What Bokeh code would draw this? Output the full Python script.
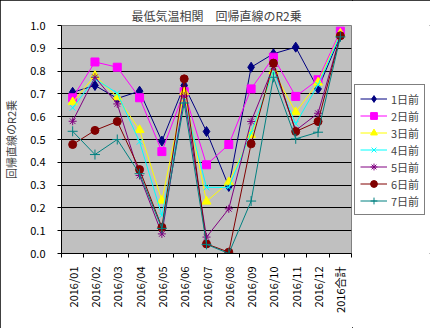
import math
from bokeh.plotting import figure
from bokeh.layouts import row
from bokeh.models import Range1d, FixedTicker, NumeralTickFormatter, Legend, LegendItem
from bokeh.embed import file_html
from bokeh.resources import INLINE

months = ["2016/01", "2016/02", "2016/03", "2016/04", "2016/05", "2016/06", "2016/07",
          "2016/08", "2016/09", "2016/10", "2016/11", "2016/12", "2016合計"]

names = ["1日前", "2日前", "3日前", "4日前", "5日前", "6日前", "7日前"]

d1 = [0.707, 0.737, 0.68, 0.712, 0.493, 0.737, 0.535, 0.294, 0.817, 0.876, 0.905, 0.722, 0.955]
d2 = [0.683, 0.840, 0.817, 0.683, 0.447, 0.710, 0.389, 0.478, 0.722, 0.861, 0.689, 0.762, 0.975]
d3 = [0.664, 0.780, 0.685, 0.542, 0.232, 0.708, 0.228, 0.313, 0.520, 0.800, 0.620, 0.750, 0.965]
d4 = [0.639, 0.766, 0.703, 0.490, 0.167, 0.670, 0.290, 0.290, 0.530, 0.800, 0.569, 0.740, 0.960]
d5 = [0.580, 0.773, 0.656, 0.342, 0.086, 0.690, 0.072, 0.196, 0.579, 0.820, 0.540, 0.615, 0.955]
d6 = [0.478, 0.540, 0.579, 0.368, 0.115, 0.766, 0.042, 0.006, 0.481, 0.835, 0.535, 0.579, 0.955]
d7 = [0.536, 0.434, 0.500, 0.350, 0.110, 0.660, 0.040, 0.000, 0.230, 0.773, 0.503, 0.532, 0.950]

y_ticks = [0.0, 0.1, 0.2, 0.3, 0.4, 0.5, 0.6, 0.7, 0.8, 0.9, 1.0]

series = [d1, d2, d3, d4, d5, d6, d7]
colors = ["#000080", "#FF00FF", "#FFFF00", "#00FFFF", "#800080", "#800000", "#008080"]
markers = ["diamond", "square", "triangle", "x", "asterisk", "circle", "cross"]
msizes = [10, 8, 9, 8, 8, 8, 10]

FONT = "Noto Sans CJK JP"

p = figure(width=352, height=328, output_backend="svg", toolbar_location=None,
           x_range=Range1d(0, len(months)), y_range=Range1d(0, 1.0),
           min_border_left=58, min_border_right=1, min_border_top=25, min_border_bottom=75)

p.background_fill_color = "#C0C0C0"
p.border_fill_color = "white"
p.outline_line_color = "#808080"

p.title.text = "最低気温相関　回帰直線のR2乗"
p.title.text_font = FONT
p.title.text_font_size = "12px"
p.title.text_font_style = "normal"
p.title.align = "left"
p.title.offset = 70
p.title.standoff = 4

xs = [i + 0.5 for i in range(len(months))]

# legend panel: separate figure (same top/bottom borders as the chart)
q = figure(width=78, height=328, output_backend="svg", toolbar_location=None,
           x_axis_type=None, y_axis_type=None,
           x_range=Range1d(-10, -9), y_range=Range1d(-10, -9),
           min_border_left=2, min_border_right=0, min_border_top=25, min_border_bottom=75)
q.outline_line_color = None
q.background_fill_color = "white"
q.border_fill_color = "white"
q.xgrid.visible = False
q.ygrid.visible = False

items = []
for name, data, col, mk, sz in zip(names, series, colors, markers, msizes):
    p.line(xs, data, line_color=col, line_width=1)
    p.scatter(xs, data, marker=mk, size=sz, line_color=col, fill_color=col, line_width=1)
    # same series in the legend panel (outside its visible range) to draw legend swatches
    ln = q.line(xs, data, line_color=col, line_width=1)
    sc = q.scatter(xs, data, marker=mk, size=sz, line_color=col, fill_color=col, line_width=1)
    items.append(LegendItem(label=name, renderers=[ln, sc]))

# x axis
p.xaxis.ticker = FixedTicker(ticks=xs, minor_ticks=list(range(len(months) + 1)))
p.xaxis.major_label_overrides = {x: m for x, m in zip(xs, months)}
p.xaxis.major_label_orientation = math.pi / 2
p.xaxis.major_tick_in = 0
p.xaxis.major_tick_out = 0
p.xaxis.minor_tick_in = 0
p.xaxis.minor_tick_out = 4
p.xaxis.major_label_standoff = 9
p.xaxis.major_label_text_font = FONT
p.xaxis.major_label_text_font_size = "11px"
p.xaxis.major_label_text_color = "black"
p.xaxis.axis_line_color = "black"
p.xaxis.minor_tick_line_color = "black"
p.xgrid.visible = False

# y axis
p.yaxis.ticker = FixedTicker(ticks=y_ticks, minor_ticks=[])
p.yaxis.formatter = NumeralTickFormatter(format="0.0")
p.yaxis.major_tick_in = 0
p.yaxis.major_tick_out = 4
p.yaxis.major_label_standoff = 12
p.yaxis.major_label_text_font = FONT
p.yaxis.major_label_text_font_size = "11px"
p.yaxis.major_label_text_color = "black"
p.yaxis.axis_line_color = "black"
p.yaxis.major_tick_line_color = "black"
p.yaxis.axis_label = "回帰直線のR2乗"
p.yaxis.axis_label_text_font = FONT
p.yaxis.axis_label_text_font_size = "11px"
p.yaxis.axis_label_text_font_style = "normal"
p.yaxis.axis_label_standoff = 8
p.ygrid.ticker = FixedTicker(ticks=y_ticks)
p.ygrid.grid_line_color = "black"
p.ygrid.grid_line_width = 1

legend = Legend(items=items, location=(0, 38))
legend.background_fill_color = "white"
legend.background_fill_alpha = 1.0
legend.border_line_color = "black"
legend.border_line_width = 1
legend.label_text_font = FONT
legend.label_text_font_size = "11px"
legend.glyph_width = 27
legend.glyph_height = 17
legend.label_height = 17
legend.spacing = 0
legend.padding = 5
legend.margin = 0
legend.label_standoff = 4
q.add_layout(legend, "center")

layout = row(p, q, spacing=0)
layout.styles = {"outline": "1px solid black", "outline-offset": "-1px"}

open("out.html", "w").write(file_html(layout, INLINE))
